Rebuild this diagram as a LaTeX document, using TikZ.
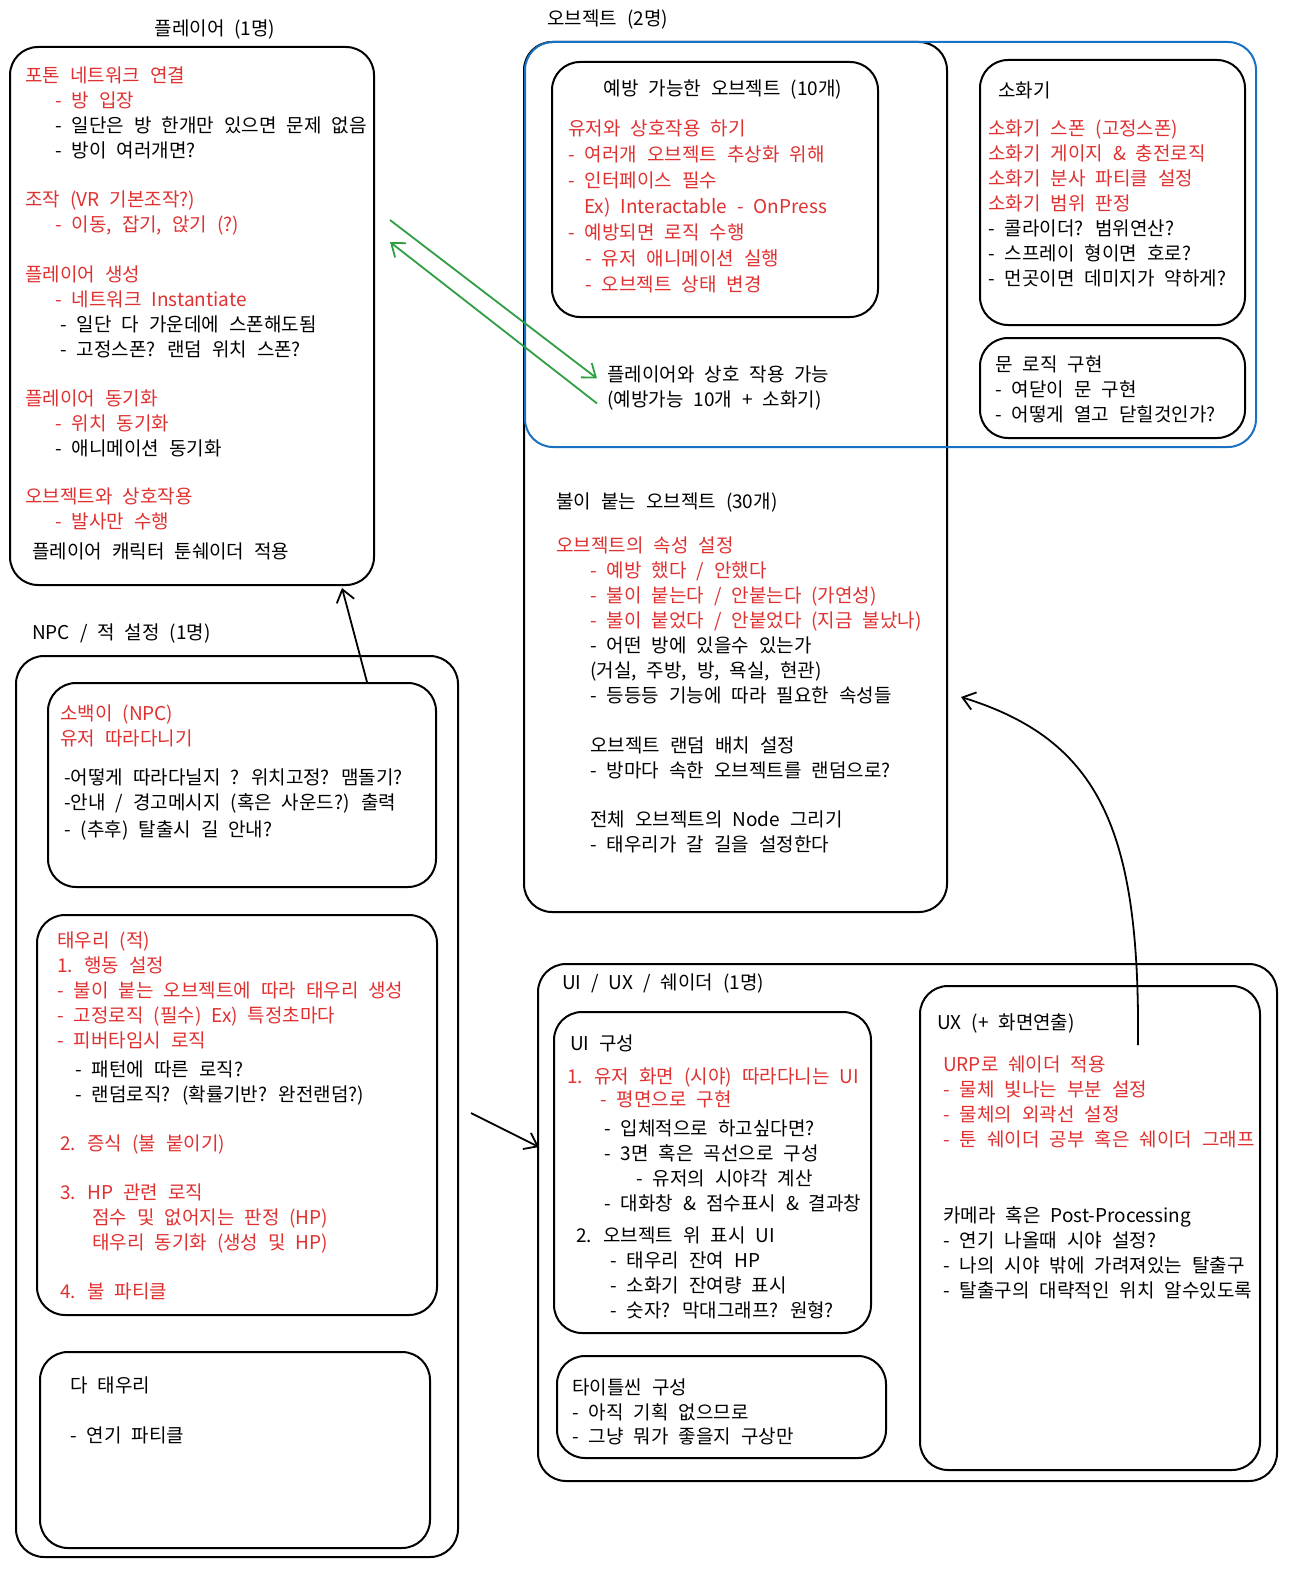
\documentclass[tikz,border=0pt]{standalone}
\usepackage{xcolor}
\usepackage{fontspec}
\setmainfont{Noto Sans CJK KR}
\usepackage{tikz}
\usetikzlibrary{arrows.meta}

\definecolor{fred}{RGB}{224,49,49}
\definecolor{fblue}{RGB}{25,113,194}
\definecolor{fgreen}{RGB}{47,158,68}
\newcommand{\rl}[1]{\textcolor{fred}{#1}}
\newcommand{\krfont}{\fontsize{19}{25}\selectfont\spaceskip 10pt\relax}
\newcommand{\krwide}{\fontsize{19}{26}\selectfont\spaceskip 10pt\relax}
\newcommand{\krtight}{\fontsize{19}{24.5}\selectfont\spaceskip 10pt\relax}

\tikzset{
  box/.style={draw, rounded corners=28pt, line width=2pt, inner sep=0pt},
  txt/.style={anchor=north west, align=left, inner sep=0pt, yshift=-3pt, font=\krfont},
  ttl/.style={inner sep=0pt, font=\krfont},
  arr/.style={-{Straight Barb[length=12pt,width=18pt]}, line width=1.8pt},
}

\begin{document}
\begin{tikzpicture}[x=1pt,y=-1pt]
	\useasboundingbox (0,0) rectangle (1295,1579);

	% player
	\node[ttl] (playertitle) at (215,30) {플레이어 (1명)};
	\node[box, minimum width=364, minimum height=538] (player) at (192,316) {};
	\node[txt] (playertext) at (25,64) {%
		\rl{포톤 네트워크 연결}\\
		\hspace*{30pt}\rl{- 방 입장}\\
		\hspace*{30pt}- 일단은 방 한개만 있으면 문제 없음\\
		\hspace*{30pt}- 방이 여러개면?\\[24pt]
		\rl{조작 (VR 기본조작?)}\\
		\hspace*{30pt}\rl{- 이동, 잡기, 앉기 (?)}\\[25pt]
		\rl{플레이어 생성}\\
		\hspace*{30pt}\rl{- 네트워크 Instantiate}\\
		\hspace*{35pt}- 일단 다 가운데에 스폰해도됨\\
		\hspace*{35pt}- 고정스폰? 랜덤 위치 스폰?\\[24pt]
		\rl{플레이어 동기화}\\
		\hspace*{30pt}\rl{- 위치 동기화}\\
		\hspace*{30pt}- 애니메이션 동기화\\[23pt]
		\rl{오브젝트와 상호작용}\\
		\hspace*{30pt}\rl{- 발사만 수행}\\[5pt]
		\hspace*{7pt}플레이어 캐릭터 툰쉐이더 적용};

	% npc / enemy
	\node[ttl, anchor=west] (npctitle) at (32,633) {NPC / 적 설정 (1명)};
	\node[box, minimum width=442, minimum height=901] (npc) at (237,1106.5) {};
	\node[box, minimum width=388, minimum height=204] (sobaek) at (242,785) {};
	\node[txt] (sobaektext) at (60,702) {%
		\rl{소백이 (NPC)}\\
		\rl{유저 따라다니기}\\[14pt]
		\hspace*{4pt}-어떻게 따라다닐지 ? 위치고정? 맴돌기?\\
		\hspace*{4pt}-안내 / 경고메시지 (혹은 사운드?) 출력\\[2pt]
		\hspace*{4pt}- (추후) 탈출시 길 안내?};
	\node[box, minimum width=400, minimum height=400] (taeuri) at (237,1115) {};
	\node[txt] (taeuritext) at (57,929) {%
		\rl{태우리 (적)}\\
		\rl{1. 행동 설정}\\
		\rl{- 불이 붙는 오브젝트에 따라 태우리 생성}\\
		\rl{- 고정로직 (필수) Ex) 특정초마다}\\
		\rl{- 피버타임시 로직}\\[4pt]
		\hspace*{18pt}- 패턴에 따른 로직?\\
		\hspace*{18pt}- 랜덤로직? (확률기반? 완전랜덤?)\\[24pt]
		\hspace*{3pt}\rl{2. 증식 (불 붙이기)}\\[24pt]
		\hspace*{3pt}\rl{3. HP 관련 로직}\\
		\hspace*{35pt}\rl{점수 및 없어지는 판정 (HP)}\\
		\hspace*{35pt}\rl{태우리 동기화 (생성 및 HP)}\\[24pt]
		\hspace*{3pt}\rl{4. 불 파티클}};
	\node[box, minimum width=390, minimum height=196] (smoke) at (235,1450) {};
	\node[txt] (smoketext) at (70,1374) {다 태우리\\[25pt]- 연기 파티클};

	% objects
	\node[ttl, anchor=west] (objtitle) at (547,20) {오브젝트 (2명)};
	\node[box, minimum width=423, minimum height=870] (objbox) at (735.5,477) {};
	\node[box, draw=fblue, minimum width=731, minimum height=405] (objgroup) at (890.5,244.5) {};
	\node[box, minimum width=326, minimum height=255] (prevent) at (715,189.5) {};
	\node[ttl] (preventtitle) at (723,90) {예방 가능한 오브젝트 (10개)};
	\node[txt, text=fred, font=\krwide] (preventtext) at (568,117) {%
		유저와 상호작용 하기\\
		- 여러개 오브젝트 추상화 위해\\
		- 인터페이스 필수\\
		\hspace*{16pt}Ex) Interactable - OnPress\\
		- 예방되면 로직 수행\\
		\hspace*{17pt}- 유저 애니메이션 실행\\
		\hspace*{17pt}- 오브젝트 상태 변경};
	\node[txt] (interact) at (607,363) {플레이어와 상호 작용 가능\\(예방가능 10개 + 소화기)};
	\node[box, minimum width=265, minimum height=265] (extinguisher) at (1112.5,192.5) {};
	\node[txt] (extinguishertext) at (988,79) {%
		\hspace*{10pt}소화기\\[13pt]
		\rl{소화기 스폰 (고정스폰)}\\
		\rl{소화기 게이지 \& 충전로직}\\
		\rl{소화기 분사 파티클 설정}\\
		\rl{소화기 범위 판정}\\
		- 콜라이더? 범위연산?\\
		- 스프레이 형이면 호로?\\
		- 먼곳이면 데미지가 약하게?};
	\node[box, minimum width=265, minimum height=100] (door) at (1112.5,388) {};
	\node[txt] (doortext) at (995,353) {문 로직 구현\\- 여닫이 문 구현\\- 어떻게 열고 닫힐것인가?};
	\node[txt] (firetext) at (556,490) {%
		불이 붙는 오브젝트 (30개)\\[19pt]
		\rl{오브젝트의 속성 설정}\\
		\hspace*{34pt}\rl{- 예방 했다 / 안했다}\\
		\hspace*{34pt}\rl{- 불이 붙는다 / 안붙는다 (가연성)}\\
		\hspace*{34pt}\rl{- 불이 붙었다 / 안붙었다 (지금 불났나)}\\
		\hspace*{34pt}- 어떤 방에 있을수 있는가\\
		\hspace*{34pt}(거실, 주방, 방, 욕실, 현관)\\
		\hspace*{34pt}- 등등등 기능에 따라 필요한 속성들\\[25pt]
		\hspace*{34pt}오브젝트 랜덤 배치 설정\\
		\hspace*{34pt}- 방마다 속한 오브젝트를 랜덤으로?\\[24pt]
		\hspace*{34pt}전체 오브젝트의 Node 그리기\\
		\hspace*{34pt}- 태우리가 갈 길을 설정한다};

	% ui / ux / shader
	\node[box, minimum width=739, minimum height=517] (uiux) at (907.5,1222.5) {};
	\node[ttl, anchor=west] (uiuxtitle) at (562,983) {UI / UX / 쉐이더 (1명)};
	\node[box, minimum width=317, minimum height=321] (uiset) at (712.5,1172.5) {};
	\node[txt] (uisettext) at (567,1032) {%
		\hspace*{3pt}UI 구성\\[8pt]
		\rl{1. 유저 화면 (시야) 따라다니는 UI}\\[-2pt]
		\hspace*{33pt}\rl{- 평면으로 구현}\\[4pt]
		\hspace*{37pt}- 입체적으로 하고싶다면?\\
		\hspace*{37pt}- 3면 혹은 곡선으로 구성\\
		\hspace*{69pt}- 유저의 시야각 계산\\
		\hspace*{37pt}- 대화창 \& 점수표시 \& 결과창\\[7pt]
		\hspace*{9pt}2. 오브젝트 위 표시 UI\\
		\hspace*{43pt}- 태우리 잔여 HP\\
		\hspace*{43pt}- 소화기 잔여량 표시\\
		\hspace*{43pt}- 숫자? 막대그래프? 원형?};
	\node[box, minimum width=329, minimum height=102] (titlescene) at (721.5,1407) {};
	\node[txt, font=\krtight] (titlescenetext) at (572,1376) {타이틀씬 구성\\- 아직 기획 없으므로\\- 그냥 뭐가 좋을지 구상만};
	\node[box, minimum width=340, minimum height=484] (ux) at (1090,1228) {};
	\node[txt] (uxtext) at (937,1010) {%
		UX (+ 화면연출)\\[17pt]
		\hspace*{6pt}\rl{URP로 쉐이더 적용}\\
		\hspace*{6pt}\rl{- 물체 빛나는 부분 설정}\\
		\hspace*{6pt}\rl{- 물체의 외곽선 설정}\\
		\hspace*{6pt}\rl{- 툰 쉐이더 공부 혹은 쉐이더 그래프}\\[51pt]
		\hspace*{6pt}카메라 혹은 Post-Processing\\
		\hspace*{6pt}- 연기 나올때 시야 설정?\\
		\hspace*{6pt}- 나의 시야 밖에 가려져있는 탈출구\\
		\hspace*{6pt}- 탈출구의 대략적인 위치 알수있도록};

	% connectors
	\draw[arr] ([xshift=125pt]sobaek.north) -- ([xshift=150pt,yshift=-2pt]player.south);
	\draw[arr] ([xshift=12pt,yshift=-6.5pt]npc.east) -- ([xshift=2pt,yshift=75.5pt]uiux.west);
	\draw[arr, fgreen] ([xshift=15pt,yshift=96pt]player.east) -- ([xshift=-10pt,yshift=10pt]interact.west);
	\draw[arr, fgreen] ([xshift=-10pt,yshift=-15pt]interact.west) -- ([xshift=15pt,yshift=74pt]player.east);
	\coordinate (uxtail) at (1138,1045);
	\draw[arr] (uxtail) .. controls (1140,830) and (1100,740) .. ([xshift=13pt,yshift=-220pt]objbox.east);
\end{tikzpicture}
\end{document}
